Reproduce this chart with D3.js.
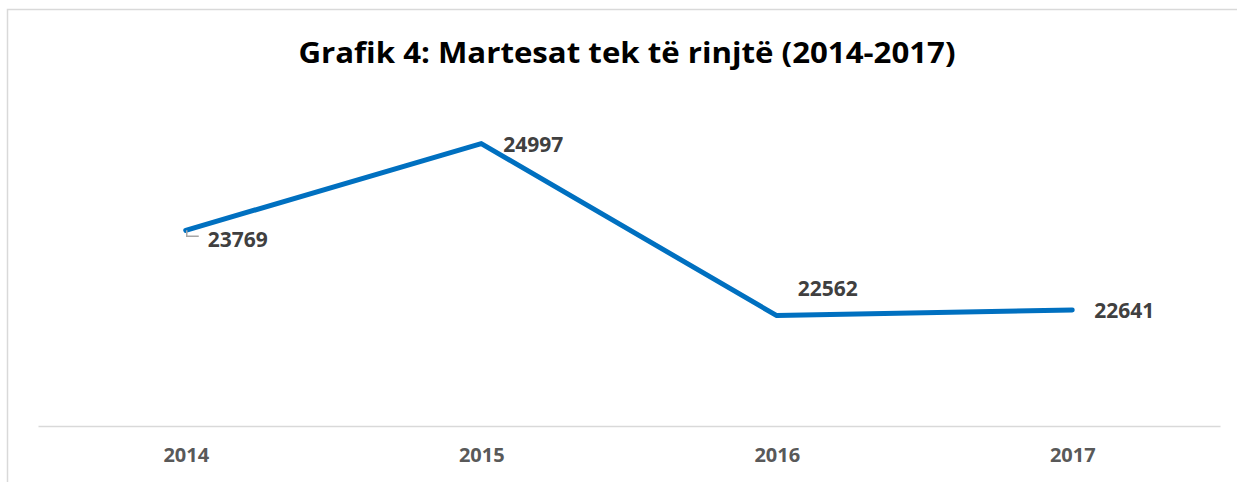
<!DOCTYPE html>
<html>
<head>
<meta charset="utf-8">
<script src="https://cdn.jsdelivr.net/npm/d3@7"></script>
<style>
  body { margin: 0; background: #fff; }
  text { font-family: "Open Sans", "Liberation Sans", Arial, sans-serif; font-weight: bold; }
</style>
</head>
<body>
<svg id="chart" width="1237" height="482"></svg>
<script>
const title = "Grafik 4: Martesat tek të rinjtë (2014-2017)";
const years = ["2014", "2015", "2016", "2017"];
const marriages = [23769, 24997, 22562, 22641];
const yDomain = [21000, 25500];

// where each data label sits relative to its point (like Excel's label position)
const labelPos = ["below-right", "right", "above", "right"];

const svg = d3.select("#chart"),
      margin = { top: 108, right: 17, bottom: 56, left: 38 },
      width = +svg.attr("width") - margin.left - margin.right,
      height = +svg.attr("height") - margin.top - margin.bottom;

// chart frame
svg.append("rect")
  .attr("x", 7.5).attr("y", 9.5)
  .attr("width", 1240).attr("height", 500)
  .attr("fill", "none")
  .attr("stroke", "#d9d9d9")
  .attr("stroke-width", 1.5);

svg.append("text")
  .attr("x", 627)
  .attr("y", 63)
  .attr("text-anchor", "middle")
  .attr("textLength", 657)
  .attr("lengthAdjust", "spacingAndGlyphs")
  .style("font-size", "28.5px")
  .attr("fill", "#000")
  .text(title);

const g = svg.append("g").attr("transform", `translate(${margin.left},${margin.top})`);

const x = d3.scalePoint().domain(years).range([0, width]).padding(0.5);
const y = d3.scaleLinear().domain(yDomain).range([height, 0]);

const xAxisG = g.append("g")
  .attr("transform", `translate(0,${height})`)
  .call(d3.axisBottom(x).tickSize(0).tickPadding(22));
xAxisG.select(".domain").attr("stroke", "#d9d9d9").attr("stroke-width", 1.5);
xAxisG.selectAll("text")
  .attr("fill", "#595959")
  .style("font-size", "20px")
  .style("font-family", "Open Sans, Liberation Sans, Arial, sans-serif")
  .style("font-weight", "bold");

const pts = years.map((yr, i) => ({ year: yr, value: marriages[i], pos: labelPos[i] }));

const line = d3.line().x(d => x(d.year)).y(d => y(d.value));

g.append("path")
  .datum(pts)
  .attr("fill", "none")
  .attr("stroke", "#0070c0")
  .attr("stroke-width", 5)
  .attr("stroke-linecap", "round")
  .attr("stroke-linejoin", "round")
  .attr("d", line);

// leader line for the first label
const first = pts[0];
g.append("path")
  .attr("fill", "none")
  .attr("stroke", "#a6a6a6")
  .attr("stroke-width", 1.5)
  .attr("d", `M${x(first.year) + 1},${y(first.value)} V${y(first.value) + 6} H${x(first.year) + 13}`);

const offsets = {
  "below-right": [22, 17],
  "right": [22, 8],
  "above": [21, -20],
};

g.selectAll(".label")
  .data(pts)
  .enter()
  .append("text")
  .attr("class", "label")
  .attr("x", d => x(d.year) + offsets[d.pos][0])
  .attr("y", d => y(d.value) + offsets[d.pos][1])
  .attr("fill", "#404040")
  .style("font-size", "21px")
  .text(d => d.value);
</script>
</body>
</html>
